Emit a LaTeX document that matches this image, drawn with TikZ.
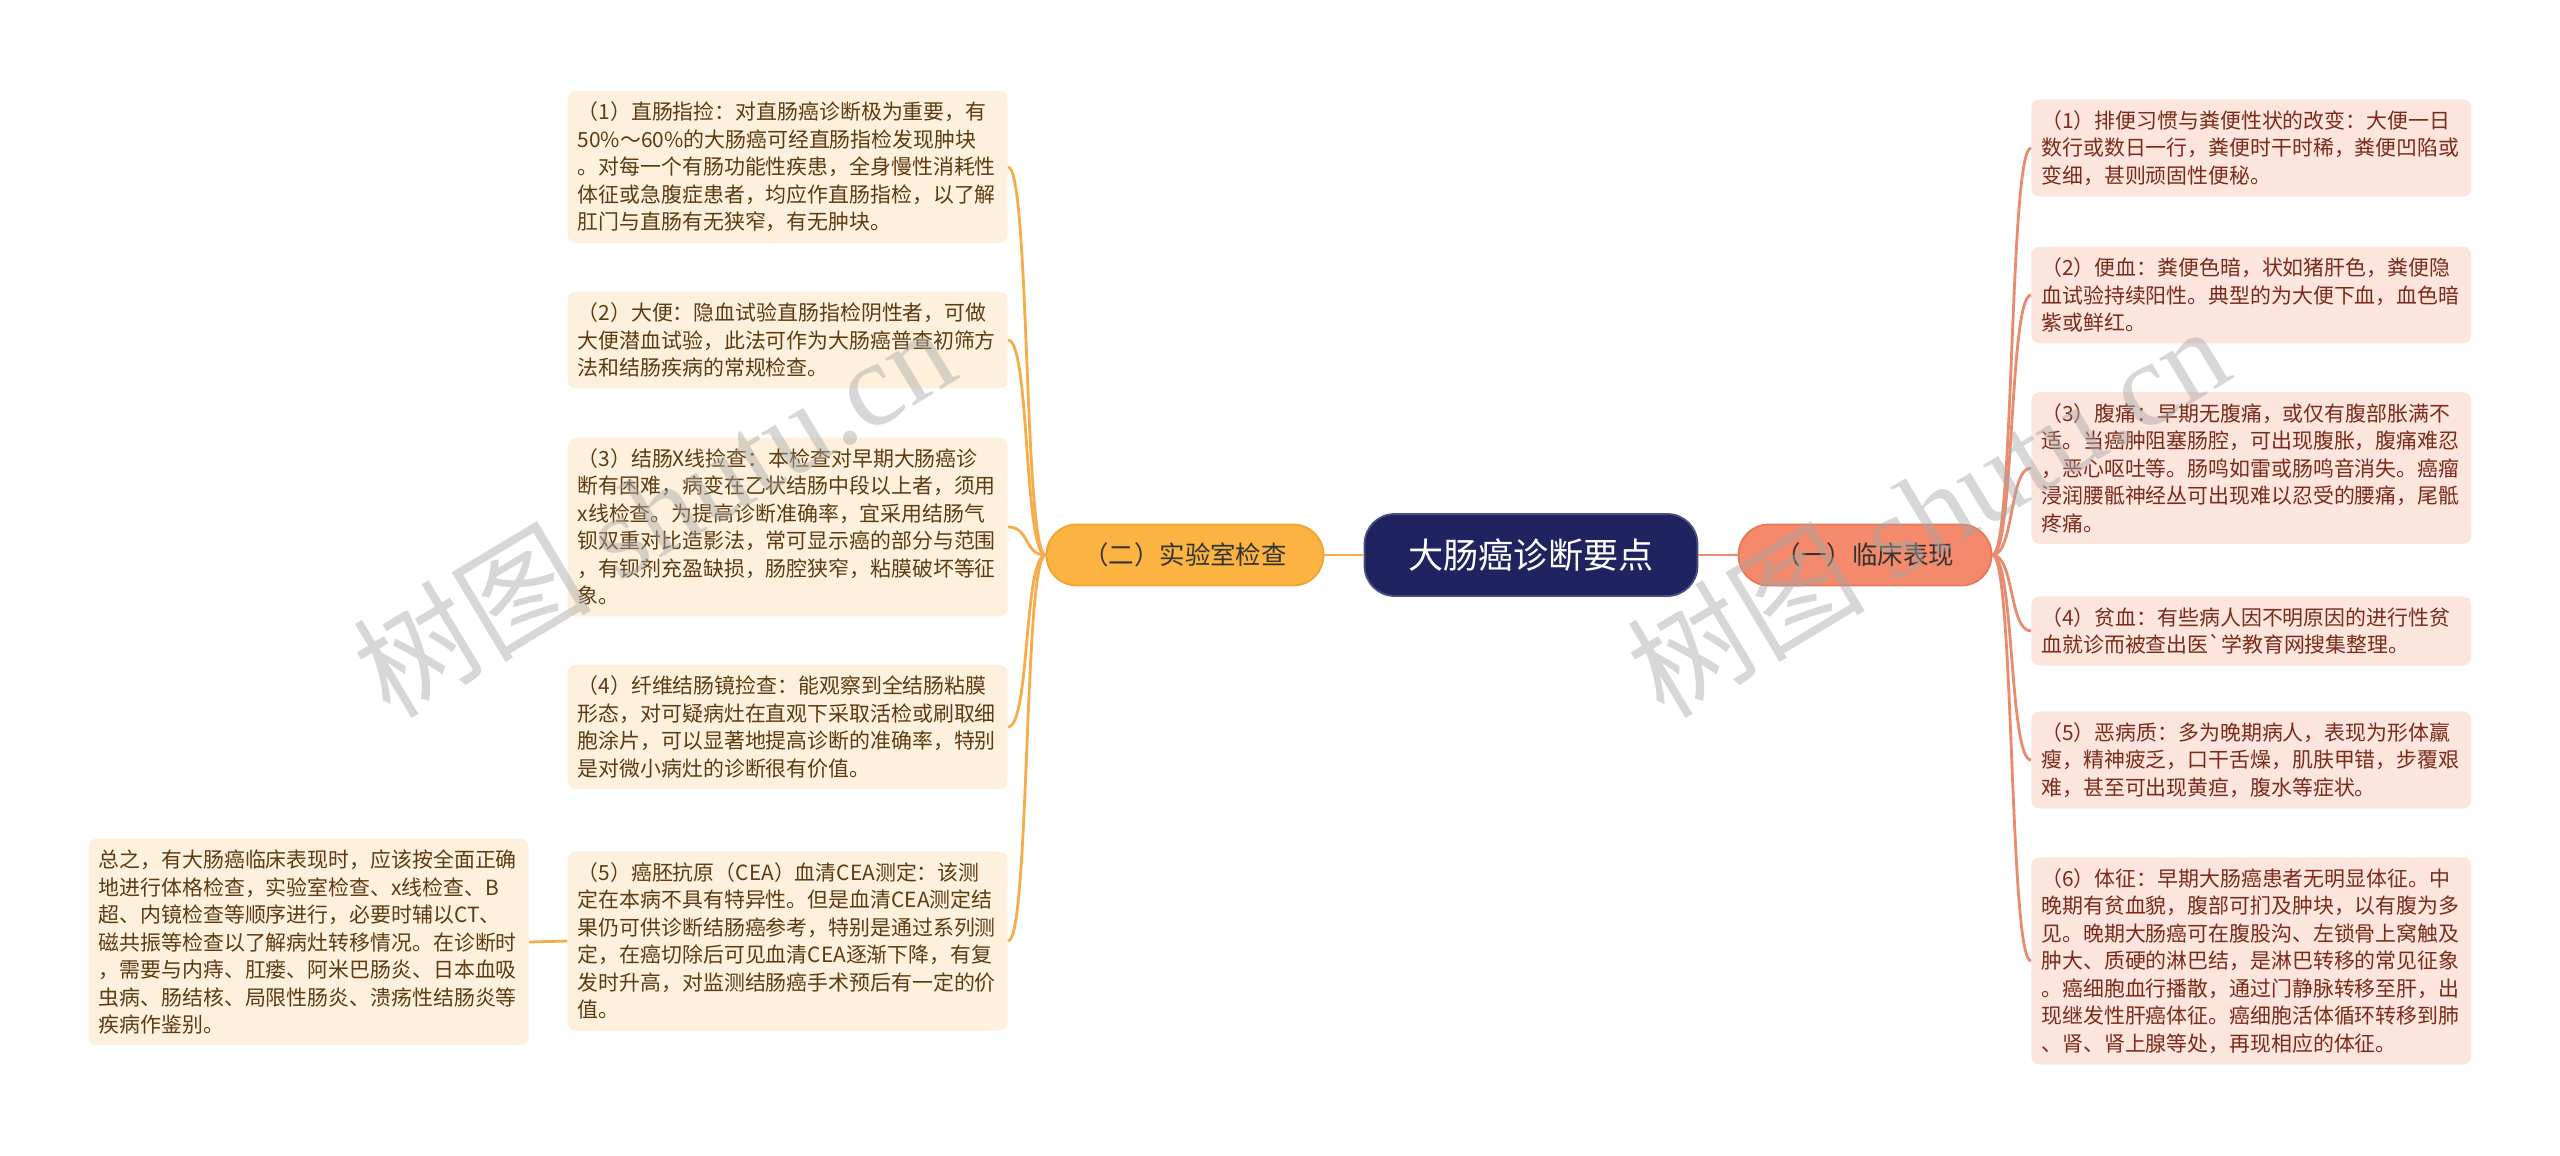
\documentclass[tikz,border=0pt]{standalone}
\usepackage{fontspec}
\newfontfamily\cjk{Noto Sans CJK SC}
\newfontfamily\wmserif{Liberation Serif}

\definecolor{rootfill}{HTML}{1F2461}
\definecolor{labfill}{HTML}{FBB341}
\definecolor{labdraw}{HTML}{F0A332}
\definecolor{clinfill}{HTML}{F4896B}
\definecolor{clindraw}{HTML}{E8785B}
\definecolor{labline}{HTML}{F5AC4A}
\definecolor{clinline}{HTML}{E98B6E}
\definecolor{labbox}{HTML}{FDF1DE}
\definecolor{labtext}{HTML}{5E3B10}
\definecolor{clinbox}{HTML}{FCE5DD}
\definecolor{clintext}{HTML}{7A2B1B}

\begin{document}
\begin{tikzpicture}[x=0.02cm, y=-0.02cm,
  root/.style={fill=rootfill, draw=rootfill!80!white, line width=1pt, rounded corners=0.6cm,
    minimum width=6.66cm, minimum height=1.64cm, text=white, font=\cjk\fontsize{20}{24}\selectfont},
  labnode/.style={fill=labfill, draw=labdraw, line width=1pt, rounded corners=0.6cm,
    minimum width=5.54cm, minimum height=1.22cm, text=black!80, font=\cjk\fontsize{14.5}{18}\selectfont},
  clinnode/.style={fill=clinfill, draw=clindraw, line width=1pt, rounded corners=0.6cm,
    minimum width=5.06cm, minimum height=1.22cm, text=black!80, font=\cjk\fontsize{14.5}{18}\selectfont},
  leafl/.style={fill=labbox, rounded corners=0.16cm, text=labtext, align=left, text width=8.4cm,
    inner xsep=0.2cm, inner ysep=0.22cm, font=\cjk\fontsize{11.9}{15.65}\selectfont},
  leafr/.style={fill=clinbox, rounded corners=0.16cm, text=clintext, align=left, text width=8.4cm,
    inner xsep=0.2cm, inner ysep=0.22cm, font=\cjk\fontsize{11.9}{15.65}\selectfont},
  labwire/.style={draw=labline, line width=1.6pt},
  clinwire/.style={draw=clinline, line width=1.6pt},
  wmark/.style={rotate=31, text=black!35, opacity=0.45}]

  \useasboundingbox (0,0) rectangle (2560,1156);

  % Centre and the two branches
  \node[root] (root) at (1531,555) {大肠癌诊断要点};
  \node[labnode] (lab) at (1185,555) {（二）实验室检查};
  \node[clinnode] (clin) at (1865,555) {（一）临床表现};

  % Laboratory tests (left)
  \node[leafl, anchor=east] (l1) at (1008,167) {（1）直肠指捡：对直肠癌诊断极为重要，有\\
    50\%～60\%的大肠癌可经直肠指检发现肿块\\
    。对每一个有肠功能性疾患，全身慢性消耗性\\
    体征或急腹症患者，均应作直肠指检，以了解\\
    肛门与直肠有无狭窄，有无肿块。};
  \node[leafl, anchor=east] (l2) at (1008,340) {（2）大便：隐血试验直肠指检阴性者，可做\\
    大便潜血试验，此法可作为大肠癌普查初筛方\\
    法和结肠疾病的常规检查。};
  \node[leafl, anchor=east] (l3) at (1008,527) {（3）结肠X线捡查：本检查对早期大肠癌诊\\
    断有困难，病变在乙状结肠中段以上者，须用\\
    x线检查。为提高诊断准确率，宜采用结肠气\\
    钡双重对比造影法，常可显示癌的部分与范围\\
    ，有钡剂充盈缺损，肠腔狭窄，粘膜破坏等征\\
    象。};
  \node[leafl, anchor=east] (l4) at (1008,727) {（4）纤维结肠镜捡查：能观察到全结肠粘膜\\
    形态，对可疑病灶在直观下采取活检或刷取细\\
    胞涂片，可以显著地提高诊断的准确率，特别\\
    是对微小病灶的诊断很有价值。};
  \node[leafl, anchor=east] (l5) at (1008,941) {（5）癌胚抗原（CEA）血清CEA测定：该测\\
    定在本病不具有特异性。但是血清CEA测定结\\
    果仍可供诊断结肠癌参考，特别是通过系列测\\
    定，在癌切除后可见血清CEA逐渐下降，有复\\
    发时升高，对监测结肠癌手术预后有一定的价\\
    值。};
  \node[leafl, anchor=east] (sum) at (529,942) {总之，有大肠癌临床表现时，应该按全面正确\\
    地进行体格检查，实验室检查、x线检查、B\\
    超、内镜检查等顺序进行，必要时辅以CT、\\
    磁共振等检查以了解病灶转移情况。在诊断时\\
    ，需要与内痔、肛瘘、阿米巴肠炎、日本血吸\\
    虫病、肠结核、局限性肠炎、溃疡性结肠炎等\\
    疾病作鉴别。};

  % Clinical signs (right)
  \node[leafr, anchor=west] (r1) at (2031,148) {（1）排便习惯与粪便性状的改变：大便一日\\
    数行或数日一行，粪便时干时稀，粪便凹陷或\\
    变细，甚则顽固性便秘。};
  \node[leafr, anchor=west] (r2) at (2031,295) {（2）便血：粪便色暗，状如猪肝色，粪便隐\\
    血试验持续阳性。典型的为大便下血，血色暗\\
    紫或鲜红。};
  \node[leafr, anchor=west] (r3) at (2031,468) {（3）腹痛：早期无腹痛，或仅有腹部胀满不\\
    适。当癌肿阻塞肠腔，可出现腹胀，腹痛难忍\\
    ，恶心呕吐等。肠鸣如雷或肠鸣音消失。癌瘤\\
    浸润腰骶神经丛可出现难以忍受的腰痛，尾骶\\
    疼痛。};
  \node[leafr, anchor=west] (r4) at (2031,631) {（4）贫血：有些病人因不明原因的进行性贫\\
    血就诊而被查出医`学教育网搜集整理。};
  \node[leafr, anchor=west] (r5) at (2031,760) {（5）恶病质：多为晚期病人，表现为形体羸\\
    瘦，精神疲乏，口干舌燥，肌肤甲错，步覆艰\\
    难，甚至可出现黄疸，腹水等症状。};
  \node[leafr, anchor=west] (r6) at (2031,961) {（6）体征：早期大肠癌患者无明显体征。中\\
    晚期有贫血貌，腹部可扪及肿块，以有腹为多\\
    见。晚期大肠癌可在腹股沟、左锁骨上窝触及\\
    肿大、质硬的淋巴结，是淋巴转移的常见征象\\
    。癌细胞血行播散，通过门静脉转移至肝，出\\
    现继发性肝癌体征。癌细胞活体循环转移到肺\\
    、肾、肾上腺等处，再现相应的体征。};

  % Connectors
  \draw[labwire] (root.west) -- (lab.east);
  \draw[clinwire] (root.east) -- (clin.west);
  \draw[labwire] (lab.west) .. controls +(-22,0) and +(22,0) .. (l1.east);
  \draw[labwire] (lab.west) .. controls +(-22,0) and +(22,0) .. (l2.east);
  \draw[labwire] (lab.west) .. controls +(-22,0) and +(22,0) .. (l3.east);
  \draw[labwire] (lab.west) .. controls +(-22,0) and +(22,0) .. (l4.east);
  \draw[labwire] (lab.west) .. controls +(-22,0) and +(22,0) .. (l5.east);
  \draw[labwire] (l5.west) -- (sum.east);
  \draw[clinwire] (clin.east) .. controls +(22,0) and +(-22,0) .. (r1.west);
  \draw[clinwire] (clin.east) .. controls +(22,0) and +(-22,0) .. (r2.west);
  \draw[clinwire] (clin.east) .. controls +(22,0) and +(-22,0) .. (r3.west);
  \draw[clinwire] (clin.east) .. controls +(22,0) and +(-22,0) .. (r4.west);
  \draw[clinwire] (clin.east) .. controls +(22,0) and +(-22,0) .. (r5.west);
  \draw[clinwire] (clin.east) .. controls +(22,0) and +(-22,0) .. (r6.west);

  % Watermarks
  \node[wmark] (wm1) at (653,510) {\cjk\fontsize{68}{76}\selectfont 树图 \wmserif shutu.cn};
  \node[wmark] (wm2) at (1927,510) {\cjk\fontsize{68}{76}\selectfont 树图 \wmserif shutu.cn};
\end{tikzpicture}
\end{document}
